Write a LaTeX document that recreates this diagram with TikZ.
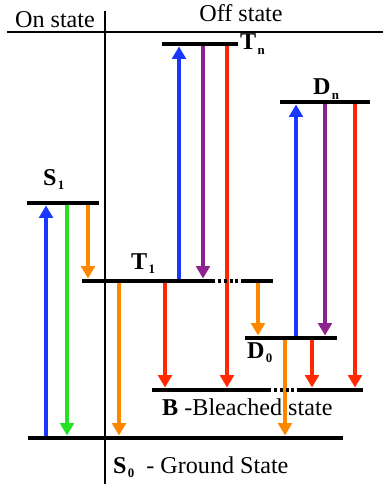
\documentclass[tikz,border=0pt]{standalone}
\usepackage{fontspec}
\setmainfont{Liberation Serif}
\usetikzlibrary{arrows.meta}
\definecolor{cblue}{RGB}{25,55,255}
\definecolor{cgreen}{RGB}{35,225,35}
\definecolor{corange}{RGB}{255,135,0}
\definecolor{cpurple}{RGB}{140,35,145}
\definecolor{cred}{RGB}{255,40,0}
\newcommand{\lv}[2]{\textbf{#1}\kern1pt\raisebox{-3.5pt}{\fontsize{11}{11}\selectfont\textbf{#2}}}

\begin{document}
\begin{tikzpicture}[x=0.03cm,y=-0.03cm,
  font=\fontsize{20.6}{24}\selectfont,
  lvl/.style={line width=4.2pt},
  arr/.style={draw=#1, line width=3.6pt, -{Triangle[width=11.5pt,length=10.5pt]}, shorten >=2.1pt},
  sep/.style={line width=1.5pt}]
\useasboundingbox (0,0) rectangle (383,484);

% on / off separation
\draw[sep] (7,32) -- (383,32);
\draw[sep] (105,11) -- (105,484);
\node[anchor=base] (on) at (55,28) {On state};
\node[anchor=base] (off) at (241,22) {Off state};

% energy levels (left end, right end)
\foreach \n/\l/\r/\y in {tn/162/238/44, dn/280/370/102, s1/27/99/203, t1/82/212/281,
                         d0/245/337/338, b/152/268/390, s0/28/343/438} {
  \coordinate (\n) at (\l,\y);
  \coordinate (\n e) at (\r,\y);
}
\coordinate (t1x) at (242,281);  \coordinate (t1xe) at (273,281);
\coordinate (bx) at (298,390);   \coordinate (bxe) at (363,390);

% labels
\node[anchor=base west, inner sep=0pt] (tnlab) at (240,50) {\lv{T}{n}};
\node[anchor=base west, inner sep=0pt] (dnlab) at (313,95) {\lv{D}{n}};
\node[anchor=base west, inner sep=0pt] (s1lab) at (43,185) {\lv{S}{1}};
\node[anchor=base west, inner sep=0pt] (t1lab) at (131,269) {\lv{T}{1}};
\node[anchor=base west, inner sep=0pt] (d0lab) at (247,358) {\lv{D}{0}};
\node[anchor=base west, inner sep=0pt] (blab) at (162,415) {\textbf{B} -Bleached state};
\node[anchor=base west, inner sep=0pt] (s0lab) at (113,473) {\lv{S}{0}\ \ - Ground State};

% transitions
\foreach \x/\a/\b/\c in {46/s0/s1/cblue, 67/s1/s0/cgreen, 88/s1/t1/corange,
    119/t1/s0/corange, 165/t1/b/cred, 179/t1/tn/cblue, 203/tn/t1/cpurple,
    227/tn/b/cred, 258/t1x/d0/corange, 285/d0/s0/corange, 296/d0/dn/cblue,
    312/d0/b/cred, 325/dn/d0/cpurple, 355/dn/b/cred}
  \draw[arr=\c] (\x,0 |- \a) -- (\x,0 |- \b);

% levels on top
\foreach \n in {tn,dn,s1,t1,d0,b,s0}
  \draw[lvl] (\n) -- (\n e);
\draw[lvl] (t1x) -- (t1xe);
\draw[lvl] (bx) -- (bxe);
\draw[lvl, dash pattern=on 2.5pt off 2.5pt] (t1e) -- (t1x);
\draw[lvl, dash pattern=on 2.5pt off 2.5pt] (be) -- (bx);
\end{tikzpicture}
\end{document}
